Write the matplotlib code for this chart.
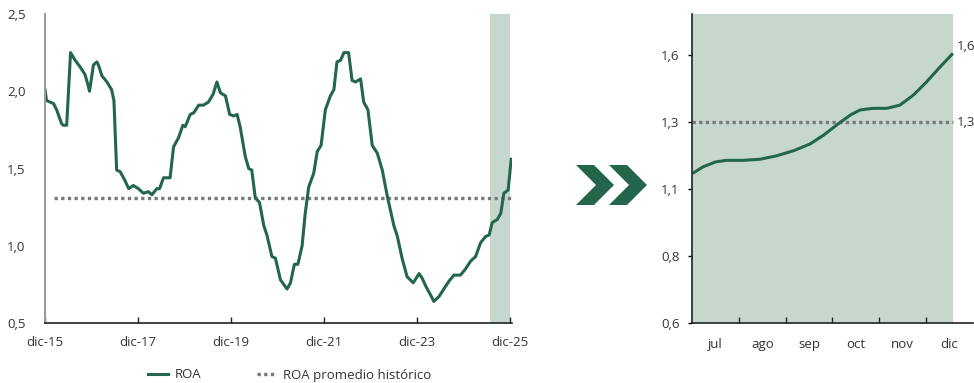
"""
ROA history (dic-15 to dic-25) with a zoom on the second half of 2025.
Saves out.png at 974x383.
"""

import matplotlib.pyplot as plt
from matplotlib.patches import Polygon

plt.rcParams["font.family"] = ["Open Sans", "DejaVu Sans"]

GREEN = "#24664b"
SHADE = "#c6d8ce"
GREY = "#7a7a7a"

# --- left panel: ROA, months since dic-15 ---
months = [0, 0.4, 1.3, 2.2, 3, 4.3, 4.7, 5.6, 6.6, 7.8, 9, 10.3, 11, 11.5,
          12.5, 13.4, 13.8, 14.7, 16, 17.2, 17.8, 18.5, 19.4, 20.7, 21.6,
          22.8, 24.1, 25.4, 26.7, 27.6, 28.9, 29.6, 30.6, 32.3, 33.2, 34.5,
          35.6, 36.2, 37.5, 38.4, 39.7, 40.9, 42.2, 43.4, 44.4, 45.3, 46.6,
          47.7, 48.7, 49.6, 50.4, 51.7, 52.6, 53.4, 54.3, 55.4, 56.5, 57.3,
          58.6, 59.5, 60.8, 62.5, 63.4, 64.4, 65.3, 66.4, 67.2, 68.1, 69.4,
          70.3, 71.3, 72.4, 73.7, 74.6, 75.4, 76.3, 77.2, 78.4, 79.3, 80.2,
          81.5, 82.3, 83.4, 84.5, 85.8, 87.1, 88.4, 90.1, 91, 92.2, 93.5,
          95.1, 96.6, 97.4, 98.3, 99.6, 100.4, 101.7, 103, 104.3, 105.6,
          107.3, 108.6, 109.9, 111.2, 112.5, 113.8, 114.7, 115.5, 116.8,
          117.7, 118.5, 119.6, 120.4]
roa = [2.01, 1.94, 1.93, 1.92, 1.88, 1.79, 1.78, 1.78, 2.25, 2.20, 2.16,
       2.11, 2.05, 2.00, 2.17, 2.19, 2.17, 2.10, 2.06, 2.01, 1.94, 1.49,
       1.48, 1.42, 1.37, 1.39, 1.37, 1.34, 1.35, 1.33, 1.37, 1.37, 1.44,
       1.44, 1.64, 1.70, 1.78, 1.77, 1.85, 1.86, 1.91, 1.91, 1.93, 1.98,
       2.06, 1.99, 1.97, 1.85, 1.84, 1.85, 1.77, 1.58, 1.50, 1.49, 1.31,
       1.28, 1.13, 1.07, 0.93, 0.92, 0.78, 0.72, 0.76, 0.88, 0.88, 1.00,
       1.21, 1.38, 1.47, 1.61, 1.65, 1.88, 1.97, 2.01, 2.19, 2.20, 2.25,
       2.25, 2.07, 2.06, 2.08, 1.93, 1.88, 1.65, 1.60, 1.49, 1.32, 1.13,
       1.06, 0.92, 0.80, 0.76, 0.82, 0.79, 0.74, 0.68, 0.64, 0.67, 0.72,
       0.77, 0.81, 0.81, 0.85, 0.90, 0.93, 1.02, 1.06, 1.07, 1.15, 1.17,
       1.21, 1.34, 1.36, 1.56]
roa_avg = 1.31
left_ticks = [0, 24, 48, 72, 96, 120]
left_labels = ["dic-15", "dic-17", "dic-19", "dic-21", "dic-23", "dic-25"]
left_yticks = [0.5, 1.0, 1.5, 2.0, 2.5]
left_ylabels = ["0,5", "1,0", "1,5", "2,0", "2,5"]
shade_start = 114.8  # jul-25

# --- right panel: zoom jul-dic 2025 (category position, axis units) ---
zoom_x = [-0.49, -0.26, 0.0, 0.24, 0.60, 0.95, 1.31, 1.67, 2.02, 2.31,
          2.59, 2.88, 3.09, 3.37, 3.66, 3.94, 4.23, 4.51, 4.80, 5.07]
zoom_y = [1.158, 1.183, 1.201, 1.207, 1.207, 1.211, 1.224, 1.243, 1.268,
          1.301, 1.339, 1.376, 1.395, 1.401, 1.401, 1.413, 1.451, 1.50,
          1.556, 1.606]
zoom_avg = 1.35
months_2025 = ["jul", "ago", "sep", "oct", "nov", "dic"]
right_yticks = [0.6, 0.85, 1.1, 1.35, 1.6]
right_ylabels = ["0,6", "0,8", "1,1", "1,3", "1,6"]

W, H = 974, 383
fig = plt.figure(figsize=(W / 100, H / 100), dpi=100)


def box(x0, y0, x1, y1):
    # pixel box (top-left origin) -> figure fraction rect
    return [x0 / W, 1 - y1 / H, (x1 - x0) / W, (y1 - y0) / H]


ax1 = fig.add_axes(box(45, 14, 512, 323))
ax1.axvspan(shade_start, 120.2, color=SHADE, lw=0)
ax1.axhline(roa_avg, xmin=0.02, color=GREY, lw=2.4, ls=(0, (1, 1)))
ax1.plot(months, roa, color=GREEN, lw=2.2, solid_joinstyle="round")
ax1.set_xlim(0, 120.6)
ax1.set_ylim(0.5, 2.5)
ax1.set_xticks(left_ticks, left_labels)
ax1.set_yticks(left_yticks, left_ylabels)
ax1.tick_params(axis="x", direction="in", length=4, width=1, pad=9,
                labelsize=9.5, colors="#222222", labelcolor="#333333")
ax1.tick_params(axis="y", length=0, pad=14, labelsize=9.5, labelcolor="#333333")
for s in ("top", "right"):
    ax1.spines[s].set_visible(False)
ax1.spines["left"].set_color("#9a9a9a")
ax1.spines["left"].set_linewidth(1.4)
ax1.spines["bottom"].set_color("#222222")
ax1.spines["bottom"].set_linewidth(1.2)

ax2 = fig.add_axes(box(692, 14, 973, 323))
ax2.axvspan(-0.5, 5.08, color=SHADE, lw=0)
ax2.plot([-0.5, 5.08], [zoom_avg, zoom_avg], color=GREY, lw=2.4, ls=(0, (1, 1)))
ax2.plot(zoom_x, zoom_y, color=GREEN, lw=2.2, solid_capstyle="butt")
ax2.text(5.15, zoom_y[-1], "1,6", va="bottom", ha="left", fontsize=9.5, color="#333333")
ax2.text(5.15, zoom_avg, "1,3", va="center", ha="left", fontsize=9.5, color="#333333")
ax2.set_xlim(-0.5, 5.5)
ax2.set_ylim(0.6, 1.753)
ax2.set_xticks(range(len(months_2025)), months_2025)
ax2.set_xticks([0.5, 1.5, 2.5, 3.5, 4.5], minor=True)
ax2.tick_params(axis="x", which="major", length=0, pad=11, labelsize=9.5, labelcolor="#333333")
ax2.tick_params(axis="x", which="minor", direction="in", length=4, width=1, colors="#222222")
ax2.set_yticks(right_yticks, right_ylabels)
ax2.tick_params(axis="y", length=3, width=1, pad=6, labelsize=9.5, labelcolor="#333333")
for s in ("top", "right"):
    ax2.spines[s].set_visible(False)
for s in ("left", "bottom"):
    ax2.spines[s].set_color("#222222")
    ax2.spines[s].set_linewidth(1.2)

# double chevron between the panels
for dx in (0, 33):
    pts = [(576, 165), (594, 165), (614, 185), (594, 205), (576, 205), (596, 185)]
    frac = [((x + dx) / W, 1 - y / H) for x, y in pts]
    fig.add_artist(Polygon(frac, closed=True, transform=fig.transFigure,
                           color=GREEN, lw=0))

# legend
h1, = ax1.plot([], [], color=GREEN, lw=2.2)
h2, = ax1.plot([], [], color=GREY, lw=2.4, ls=(0, (1, 1)))
fig.legend([h1, h2], ["ROA", "ROA promedio histórico"], loc="center",
           bbox_to_anchor=(290 / W, 1 - 375 / H), ncol=2, frameon=False,
           fontsize=9.5, handlelength=1.5, columnspacing=4.2,
           handletextpad=0.5, labelcolor="#333333")

fig.savefig("out.png", dpi=100)
